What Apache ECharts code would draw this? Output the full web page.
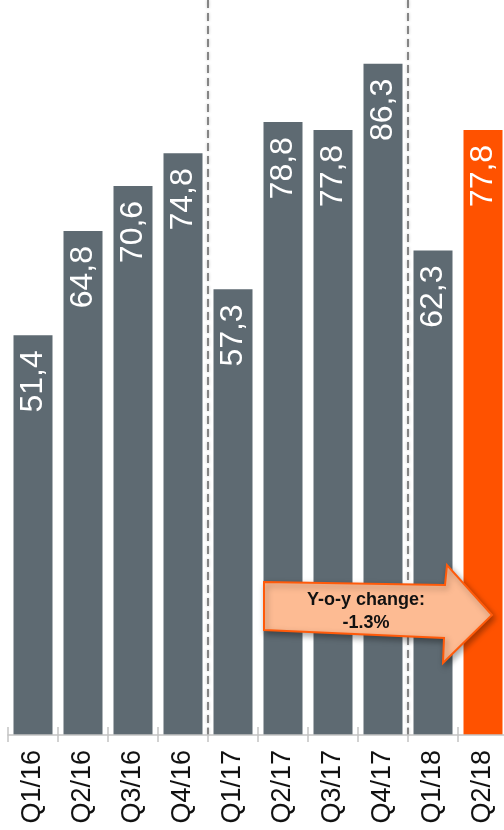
<!DOCTYPE html>
<html>
<head>
<meta charset="utf-8">
<script src="https://cdn.jsdelivr.net/npm/echarts@6/dist/echarts.min.js"></script>
<style>
html,body{margin:0;padding:0;background:#fff;overflow:hidden;width:504px;height:830px;}
#chart{width:512px;height:830px;}
</style>
</head>
<body>
<div id="chart"></div>
<script>
const categories = ['Q1/16','Q2/16','Q3/16','Q4/16','Q1/17','Q2/17','Q3/17','Q4/17','Q1/18','Q2/18'];
const values = [51.4, 64.8, 70.6, 74.8, 57.3, 78.8, 77.8, 86.3, 62.3, 77.8];
const highlightIndex = 9;
const separatorIndices = [4, 8];
const arrowLines = ['Y-o-y change:', '-1.3%'];

const GRAY = '#5e6a72';
const ORANGE = '#ff5200';

const chart = echarts.init(document.getElementById('chart'), null, {renderer: 'canvas'});

const seriesData = values.map((v, i) => ({
  value: v,
  itemStyle: {color: i === highlightIndex ? ORANGE : GRAY}
}));

const option = {
  animation: false,
  backgroundColor: '#ffffff',
  grid: {left: 8, right: 4, top: 0, bottom: 95, containLabel: false},
  xAxis: [{
    type: 'category',
    data: categories,
    boundaryGap: true,
    axisLine: {show: true, lineStyle: {color: '#c4c4c4', width: 1.5}},
    axisTick: {show: true, length: 7, interval: 0, lineStyle: {color: '#c4c4c4', width: 1.5}},
    axisLabel: {
      interval: 0, rotate: 90, fontSize: 27, color: '#111',
      fontFamily: 'Liberation Sans, Arial, sans-serif', margin: 15
    },
    splitLine: {
      show: true,
      interval: (idx) => separatorIndices.includes(idx),
      lineStyle: {color: '#858585', width: 2, type: [8, 5], shadowBlur: 3, shadowColor: 'rgba(0,0,0,0.25)'}
    },
    z: 5
  }, {
    type: 'category',
    data: categories,
    position: 'bottom',
    boundaryGap: true,
    axisLine: {show: false},
    axisTick: {show: true, inside: true, length: 8, interval: 0, lineStyle: {color: '#c4c4c4', width: 1.5}},
    axisLabel: {show: false},
    splitLine: {show: false}
  }],
  yAxis: {
    type: 'value', min: 0, max: 94.5, show: false,
    splitLine: {show: false}
  },
  series: [{
    type: 'bar',
    data: seriesData,
    barWidth: 39,
    label: {
      show: true,
      position: 'insideTop',
      rotate: 90,
      align: 'right',
      verticalAlign: 'middle',
      distance: 15,
      color: '#ffffff',
      fontSize: 32,
      fontFamily: 'Liberation Sans, Arial, sans-serif',
      formatter: (p) => p.value.toFixed(1).replace('.', ',')
    }
  }],
  graphic: [{
    type: 'polygon',
    zlevel: 2, z: 100,
    shape: {points: [[264,582],[445,585],[447,565],[492,615],[443,663],[444,638],[264,630]]},
    style: {
      fill: '#fdbb93', stroke: '#ff5a0a', lineWidth: 2,
      shadowBlur: 6, shadowOffsetX: 2, shadowOffsetY: 3, shadowColor: 'rgba(0,0,0,0.35)'
    }
  }, {
    type: 'text',
    zlevel: 2, z: 101,
    x: 366, y: 612,
    style: {
      text: arrowLines.join('\n'),
      fill: '#111', font: 'bold 18px "Liberation Sans", Arial, sans-serif',
      align: 'center', verticalAlign: 'middle', lineHeight: 23
    }
  }]
};
chart.setOption(option);
</script>
</body>
</html>
